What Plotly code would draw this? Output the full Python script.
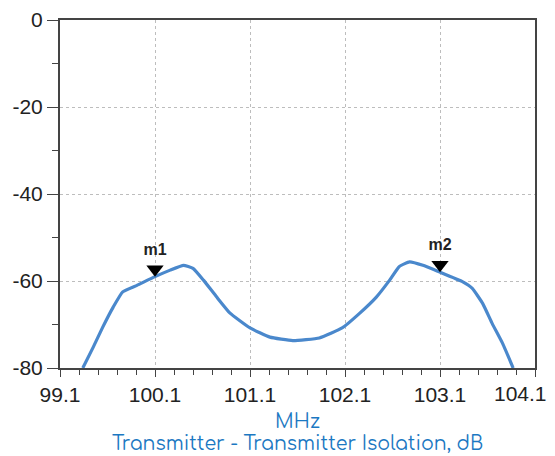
import numpy as np
import plotly.graph_objects as go

# curve (MHz, dB)
freq_mhz = [99.34, 99.45, 99.55, 99.66, 99.76, 99.91, 100.10, 100.26, 100.40, 100.50,
            100.61, 100.75, 100.89, 101.10, 101.31, 101.55, 101.83, 102.07, 102.25,
            102.43, 102.57, 102.67, 102.78, 102.92, 103.09, 103.34, 103.44, 103.55,
            103.65, 103.76, 103.87]
isolation_db = [-80.0, -75.2, -70.6, -66.0, -62.5, -61.0, -59.0, -57.5, -56.4, -57.1,
                -59.8, -63.7, -67.4, -70.8, -72.9, -73.7, -73.1, -70.8, -67.5,
                -63.7, -59.8, -56.7, -55.6, -56.4, -57.9, -60.2, -61.7, -65.2,
                -69.8, -74.4, -80.0]

marker_names = ["m1", "m2"]
marker_freqs = [100.1, 103.1]

x_ticks = [99.1, 100.1, 101.1, 102.1, 103.1, 104.1]
y_ticks = [0, -20, -40, -60, -80]

x_title = "MHz"
sub_title = "Transmitter - Transmitter Isolation, dB"

LINE_BLUE = "#4a88cc"
TITLE_BLUE = "#1b78c2"
INK = "#222222"
AXIS = "#444444"
GRID = "#bdbdbd"
TICK_FONT = dict(family="Liberation Sans, Arial, sans-serif", size=21, color=INK)
TITLE_FONT = dict(family="Comfortaa, Lato, Noto Sans, sans-serif", size=19, color=TITLE_BLUE)

# plot-area height in px is 348 for 80 dB; lift triangles so the tip sits on the curve
PX_PER_DB = 348 / 80
TRI_SIZE = 15
lift = (TRI_SIZE / 2) / PX_PER_DB

marker_y = [float(np.interp(f, freq_mhz, isolation_db)) for f in marker_freqs]

# the last x label sits left of its tick in the original (kept inside the picture),
# so it is drawn as an annotation instead of a centred tick label
x_text = [f"{v:.1f}" for v in x_ticks]
last_label = x_text[-1]
x_text[-1] = ""

fig = go.Figure()
fig.add_trace(go.Scatter(
    x=freq_mhz, y=isolation_db, mode="lines",
    line=dict(color=LINE_BLUE, width=3.2, shape="spline", smoothing=0.4),
    showlegend=False,
))
fig.add_trace(go.Scatter(
    x=marker_freqs, y=[v + lift for v in marker_y], mode="markers+text",
    marker=dict(symbol="triangle-down", size=TRI_SIZE, color="black"),
    text=[f"<b>{n}</b>" for n in marker_names], textposition="top center",
    textfont=dict(family="Liberation Sans, Arial, sans-serif", size=16, color=INK),
    showlegend=False, cliponaxis=False,
))

fig.add_annotation(x=x_ticks[-1], xref="x", y=0, yref="paper", text=last_label,
                   showarrow=False, xanchor="right", yanchor="middle",
                   xshift=14, yshift=-25, font=TICK_FONT)
fig.add_annotation(x=0.5, xref="paper", y=0, yref="paper", text=x_title,
                   showarrow=False, yanchor="middle", yshift=-53, font=TITLE_FONT)
fig.add_annotation(x=0.5, xref="paper", y=0, yref="paper", text=sub_title,
                   showarrow=False, yanchor="middle", yshift=-75, font=TITLE_FONT)

# page body has an 8px margin, so the figure is 8px smaller and margins trimmed to match
fig.update_layout(
    width=547, height=448,
    margin=dict(l=52, r=20, t=12, b=88),
    paper_bgcolor="white", plot_bgcolor="white",
    font=dict(family="Liberation Sans, Arial, sans-serif", color=INK, size=19),
)
fig.update_xaxes(
    range=[99.1, 104.1], tickvals=x_ticks, ticktext=x_text,
    tickfont=TICK_FONT, automargin=False,
    ticks="outside", ticklen=7, tickwidth=1, tickcolor=AXIS,
    minor=dict(tick0=99.1, dtick=0.2, ticks="outside", ticklen=5, tickcolor=AXIS, showgrid=False),
    showline=True, linecolor=AXIS, linewidth=2, mirror=True,
    showgrid=True, gridcolor=GRID, griddash="dot", gridwidth=1,
    zeroline=False,
)
fig.update_yaxes(
    range=[-80, 0], tickvals=y_ticks, ticktext=[str(v) for v in y_ticks],
    tickfont=TICK_FONT, automargin=False, ticklabeloverflow="allow",
    ticks="outside", ticklen=11, tickwidth=1, tickcolor=AXIS,
    minor=dict(tick0=-90, dtick=20, ticks="outside", ticklen=6, tickcolor=AXIS, showgrid=False),
    showline=True, linecolor=AXIS, linewidth=2, mirror=True,
    showgrid=True, gridcolor=GRID, griddash="dot", gridwidth=1,
    zeroline=False,
)

fig.write_html("out.html")
